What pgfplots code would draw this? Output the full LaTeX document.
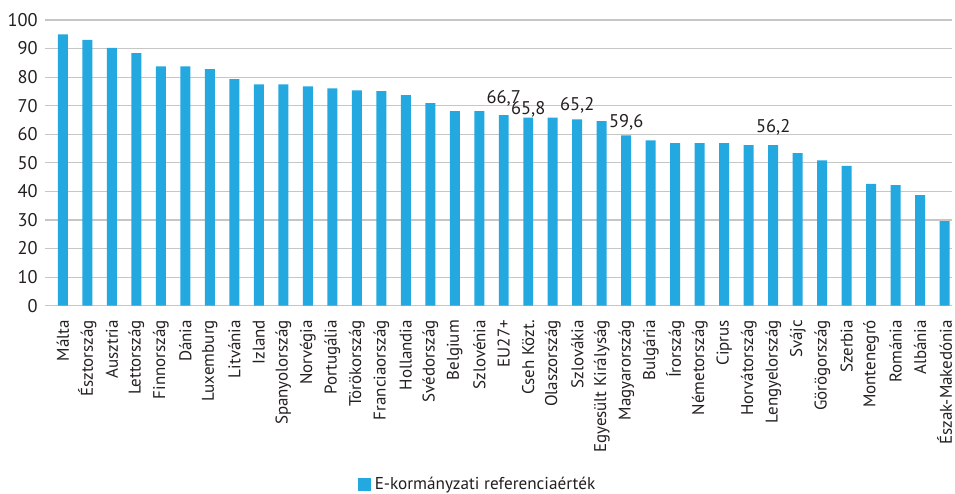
\documentclass[border=0pt]{standalone}
\usepackage{pgfplots}
\pgfplotsset{compat=1.18}
\usepackage{fontspec}
\setmainfont{PT Sans}
\definecolor{barblue}{HTML}{23A8E0}
\definecolor{txt}{HTML}{231F20}
\definecolor{gridc}{HTML}{C6C6C6}
\begin{document}
\begin{tikzpicture}
\begin{axis}[
  scale only axis, width=454pt, height=143pt,
  anchor=south west, at={(0,0)},
  xmin=-0.73, xmax=36.3, ymin=0, ymax=100,
  axis line style={draw=none},
  ytick={0,10,...,100},
  ymajorgrids, grid style={gridc, line width=0.55pt},
  major tick length=0pt,
  xtick={0,...,36},
  xticklabels={Málta,Észtország,Ausztria,Lettország,Finnország,Dánia,Luxemburg,Litvánia,Izland,Spanyolország,Norvégia,Portugália,Törökország,Franciaország,Hollandia,Svédország,Belgium,Szlovénia,EU27+,Cseh Közt.,Olaszország,Szlovákia,Egyesült Királyság,Magyarország,Bulgária,Írország,Németország,Ciprus,Horvátország,Lengyelország,Svájc,Görögország,Szerbia,Montenegró,Románia,Albánia,Észak-Makedónia},
  x tick label style={rotate=90, anchor=east, font=\fontsize{8.5pt}{10pt}\selectfont, text=txt, inner sep=0pt},
  xticklabel shift=7pt,
  y tick label style={font=\fontsize{9.2pt}{11pt}\selectfont, text=txt, inner sep=0pt},
  yticklabel shift=3.5pt,
  /pgf/number format/assume math mode=true,
  legend style={draw=none, at={(0.478,-0.626)}, anchor=center, font=\fontsize{8.6pt}{10pt}\selectfont, text=txt},
  legend image code/.code={\fill[barblue] (0pt,-3.2pt) rectangle (6.5pt,3.3pt);},
]
\addplot[ybar, bar width=5pt, fill=barblue, draw=none] coordinates {
(0,95.0) (1,93.0) (2,90.2) (3,88.4) (4,83.8) (5,83.8) (6,82.8) (7,79.3) (8,77.5) (9,77.5)
(10,76.8) (11,76.1) (12,75.4) (13,75.1) (14,73.7) (15,70.9) (16,68.1) (17,68.1) (18,66.7) (19,65.8)
(20,65.8) (21,65.2) (22,64.6) (23,59.6) (24,57.9) (25,56.9) (26,56.9) (27,56.9) (28,56.2) (29,56.2)
(30,53.4) (31,50.9) (32,48.9) (33,42.6) (34,42.2) (35,38.7) (36,29.6)};
\addlegendentry{E-kormányzati referenciaérték}
\addplot[forget plot, draw=none, mark=none, nodes near coords, point meta=explicit symbolic,
  nodes near coords style={anchor=base, inner sep=0pt, font=\fontsize{9.2pt}{11pt}\selectfont, text=txt}]
  table[meta=lab] {
x y lab
18 70.6 66,7
19 66.8 65,8
21 68.2 65,2
23 62.2 59,6
29 60.5 56,2
};
\end{axis}
\pgfresetboundingbox
\useasboundingbox (-22.5pt,-94pt) rectangle (455.5pt,153pt);
\end{tikzpicture}
\end{document}
